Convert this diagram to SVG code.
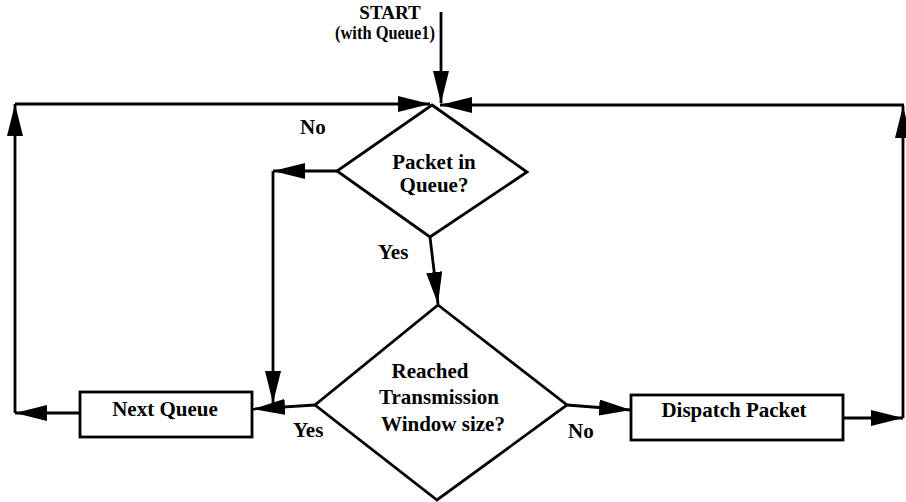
<svg xmlns="http://www.w3.org/2000/svg" width="906" height="502" viewBox="0 0 906 502">
<style>
.ln{fill:none;stroke:#000;stroke-width:2.8;marker-end:url(#ah)}
.sh{fill:#fff;stroke:#000;stroke-width:2.8}
text{font-family:"Liberation Serif","Times New Roman",serif;font-weight:bold;font-size:21px;fill:#000}
.m{text-anchor:middle}
.s{font-size:19px}
</style>
<defs>
<marker id="ah" viewBox="0 0 32 16" markerWidth="32" markerHeight="16" refX="32" refY="8" orient="auto" markerUnits="userSpaceOnUse">
<path d="M0,0 L32,8 L0,16 z" fill="#000"/>
</marker>
</defs>
<rect width="906" height="502" fill="#fff"/>
<g id="connectors">
<line class="ln" x1="441" y1="12" x2="441" y2="103"/>
<line class="ln" x1="15" y1="104" x2="430" y2="104"/>
<line class="ln" x1="15" y1="413" x2="15" y2="104"/>
<line class="ln" x1="80" y1="413" x2="15" y2="413"/>
<line class="ln" x1="904" y1="105" x2="440" y2="105"/>
<line class="ln" x1="903" y1="418" x2="903" y2="106"/>
<line class="ln" x1="843" y1="418" x2="903" y2="418"/>
<line class="ln" x1="337" y1="171" x2="273" y2="171"/>
<line class="ln" x1="273" y1="171" x2="273" y2="403"/>
<line class="ln" x1="315" y1="405" x2="253" y2="409"/>
<line class="ln" x1="430" y1="237" x2="438" y2="304"/>
<line class="ln" x1="567" y1="405" x2="631" y2="410"/>
</g>
<g id="start">
<text class="m s" x="390" y="19">START</text>
<text class="m s" x="385" y="39" textLength="100" lengthAdjust="spacingAndGlyphs">(with Queue1)</text>
</g>
<g id="decision1">
<polygon class="sh" points="432,105 527,172 430,237 337,171"/>
<text class="m" x="434" y="169">Packet in</text>
<text class="m" x="434" y="192">Queue?</text>
</g>
<g id="decision2">
<polygon class="sh" points="438,305 567,405 437,500 315,405"/>
<text class="m" x="430" y="378">Reached</text>
<text class="m" x="439" y="404">Transmission</text>
<text class="m" x="443" y="431">Window size?</text>
</g>
<g id="next-queue">
<rect class="sh" x="80" y="392" width="172" height="45"/>
<text class="m" x="165" y="416">Next Queue</text>
</g>
<g id="dispatch">
<rect class="sh" x="631" y="395" width="212" height="45"/>
<text class="m" x="734" y="417">Dispatch Packet</text>
</g>
<g id="labels">
<text x="300" y="134">No</text>
<text x="378" y="259">Yes</text>
<text x="293" y="437">Yes</text>
<text x="568" y="438">No</text>
</g>
</svg>
